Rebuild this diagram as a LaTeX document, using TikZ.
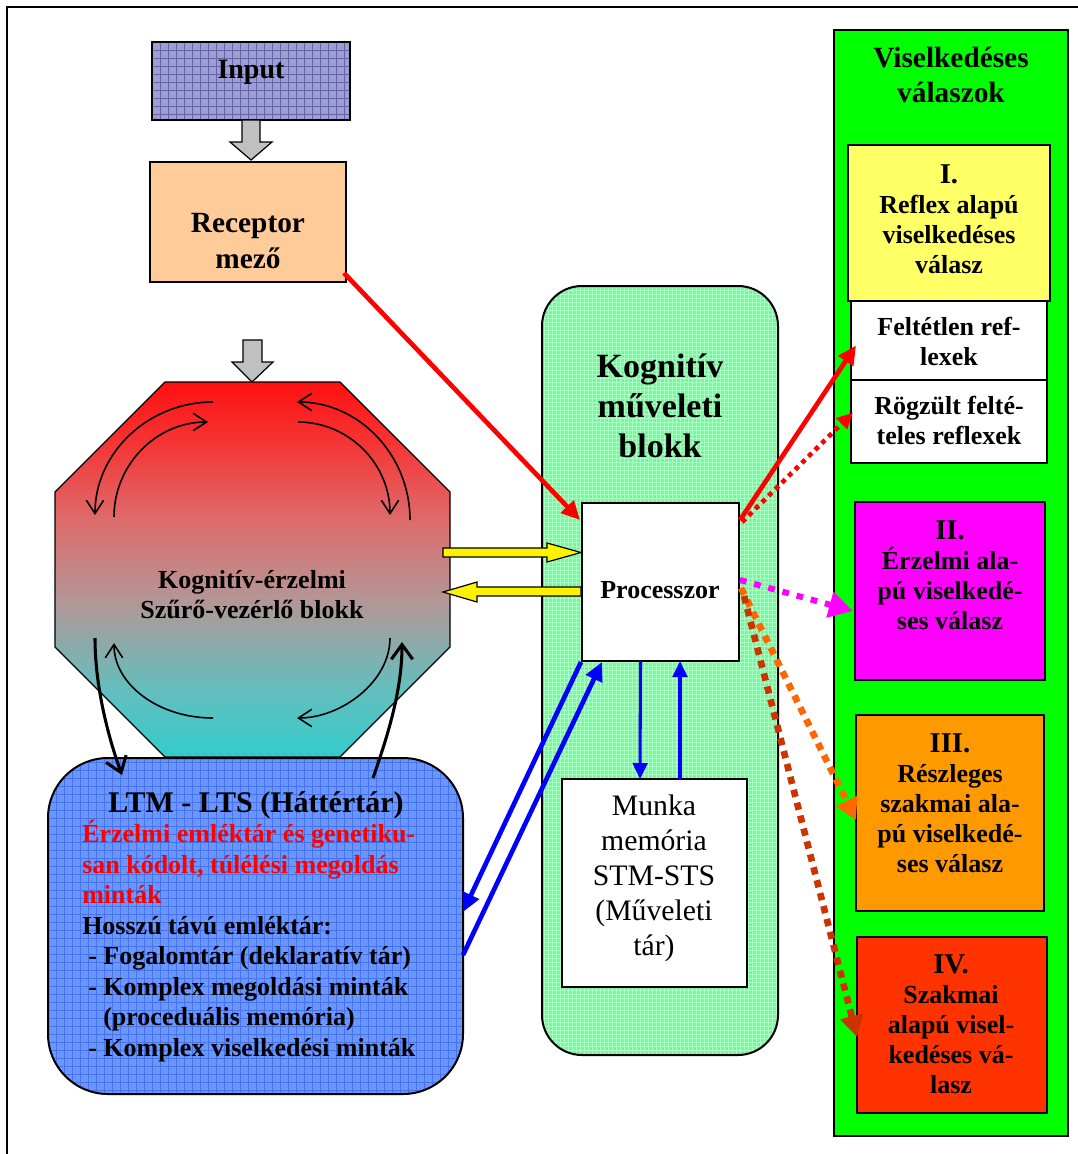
\documentclass[tikz,border=0pt]{standalone}
\usepackage{fontspec}
\setmainfont{Liberation Serif}
\usetikzlibrary{arrows.meta,calc,patterns.meta}

\definecolor{inputbase}{RGB}{158,158,208}
\definecolor{inputgrid}{RGB}{100,100,170}
\definecolor{receptor}{RGB}{255,204,153}
\definecolor{ltmbase}{RGB}{105,150,255}
\definecolor{ltmgrid}{RGB}{70,115,235}
\definecolor{kogbase}{RGB}{120,245,160}
\definecolor{koggrid}{RGB}{170,255,195}
\definecolor{colgreen}{RGB}{0,255,0}
\definecolor{boxyellow}{RGB}{255,255,102}
\definecolor{boxmagenta}{RGB}{255,0,255}
\definecolor{boxorange}{RGB}{255,153,0}
\definecolor{boxred}{RGB}{255,51,0}
\definecolor{octA}{RGB}{51,204,204}
\definecolor{octB}{RGB}{100,190,190}
\definecolor{octC}{RGB}{180,150,150}
\definecolor{octD}{RGB}{222,108,108}
\definecolor{octE}{RGB}{245,52,52}
\definecolor{octF}{RGB}{255,16,16}
\definecolor{dotorange}{RGB}{255,102,0}
\definecolor{dotbrown}{RGB}{204,51,0}
\definecolor{arrowblue}{RGB}{0,0,255}
\definecolor{blockgray}{RGB}{192,192,192}

% red at the top fading through a greyish pink into cyan at the bottom
\pgfdeclareverticalshading{octshade}{100bp}{color(0bp)=(octA); color(25bp)=(octA);
  color(34bp)=(octB); color(46bp)=(octC); color(56.5bp)=(octD); color(67bp)=(octE);
  color(75bp)=(octF); color(100bp)=(octF)}

\newcommand\fnt[2]{\fontsize{#1}{#2}\selectfont}

\tikzset{
  box/.style={draw=black, line width=1.5pt, inner sep=0pt, outer sep=0pt},
  place/.style n args={4}{minimum width={(#3-#1)*0.75pt}, minimum height={(#4-#2)*0.75pt},
    at={({(#1+#3)/2},{(#2+#4)/2})}},
  txt/.style={inner sep=0pt, align=center},
  bodyfont/.style={font={\fnt{19.5pt}{22.5pt}\bfseries}},
  gridfill/.style n args={4}{preaction={fill=#1},
    preaction={pattern={Hatch[distance=#3,line width=#4]}, pattern color=#2}},
  blockarrow/.style={draw=black, line width=0.9pt, line join=miter},
  thinbarb/.style={line width=1.2pt, -{Straight Barb[length=10pt,width=13pt]}},
  thickbarb/.style={line width=2.3pt, -{Straight Barb[length=11pt,width=16pt]}},
  redsolid/.style={draw=red, line width=3.5pt, -{Triangle[length=14pt,width=13pt]}},
  reddot/.style={draw=red, line width=3.5pt, dash pattern=on 3.5pt off 3.5pt,
    -{Triangle[length=12pt,width=11pt]}},
  magdot/.style={draw=boxmagenta, line width=4.5pt, dash pattern=on 5pt off 6pt,
    -{Triangle[length=18pt,width=19pt]}},
  orangedot/.style={draw=#1, line width=5pt, dash pattern=on 5.5pt off 4.5pt,
    -{Triangle[length=16pt,width=17pt]}},
  bluethick/.style={draw=arrowblue, line width=3.5pt, -{Triangle[length=14pt,width=13pt]}},
  bluethin/.style={draw=arrowblue, line width=2.3pt, -{Triangle[length=12pt,width=11pt]}},
}

\begin{document}
\begin{tikzpicture}[x=0.75pt,y=-0.75pt]
\useasboundingbox (0,0) rectangle (1078,1154);

% page frame
\draw[line width=1.5pt] (7,1160) -- (7,7) -- (1085,7);

% ---------- right column: behavioural responses ----------
\node[box, place={834}{30}{1068}{1136}, fill=colgreen] (col) {};
\node[txt, font={\fnt{22pt}{26.25pt}\bfseries}] (colt) at (951,74.5) {Viselkedéses\\válaszok};

\node[box, place={848}{145}{1050}{301}, fill=boxyellow] (b1) {};
\node[txt, bodyfont] (b1t) at (949,219) {{\fnt{21.5pt}{22.5pt}I.}\\Reflex alapú\\viselkedéses\\válasz};
\node[box, place={851}{301}{1047}{380}, fill=white] (felt) {};
\node[txt, bodyfont] (feltt) at (949,341) {Feltétlen ref-\\lexek};
\node[box, place={851}{380}{1047}{463}, fill=white] (rog) {};
\node[txt, bodyfont] (rogt) at (949,420) {Rögzült felté-\\teles reflexek};

\node[box, place={855}{502}{1045}{680}, fill=boxmagenta] (b2) {};
\node[txt, bodyfont] (b2t) at (950,575) {{\fnt{21.5pt}{22.5pt}II.}\\Érzelmi ala-\\pú viselkedé-\\ses válasz};
\node[box, place={856}{715}{1044}{911}, fill=boxorange] (b3) {};
\node[txt, bodyfont] (b3t) at (950,803) {{\fnt{21.5pt}{22.5pt}III.}\\Részleges\\szakmai ala-\\pú viselkedé-\\ses válasz};
\node[box, place={857}{937}{1047}{1113}, fill=boxred] (b4) {};
\node[txt, bodyfont] (b4t) at (951,1024) {{\fnt{21.5pt}{22.5pt}IV.}\\Szakmai\\alapú visel-\\kedéses vá-\\lasz};

% ---------- cognitive operation block ----------
\node[box, place={542}{286}{778}{1055}, rounded corners=30pt,
      gridfill={kogbase}{koggrid}{3pt}{0.35pt}] (kog) {};
\node[txt, font={\fnt{25.5pt}{30pt}\bfseries}] (kogt) at (660,406) {Kognitív\\műveleti\\blokk};
\node[box, place={582}{503}{739}{661}, fill=white] (proc) {};
\node[txt, font={\fnt{19.5pt}{22.5pt}\bfseries}, anchor=base] (proct) at (660,598) {Processzor};
\node[box, place={562}{779}{747}{987}, fill=white] (munka) {};
\node[txt, font={\fnt{22.3pt}{26.25pt}}] (munkat) at (654,878) {Munka\\memória\\STM-STS\\(Műveleti\\tár)};

% ---------- input and receptor field ----------
\node[box, place={152}{42}{350}{120}, gridfill={inputbase}{inputgrid}{6pt}{0.5pt}] (inp) {};
\node[txt, font={\fnt{21pt}{24pt}\bfseries}, anchor=base] (inpt) at (251,78) {Input};
\node[box, place={150}{162}{346}{282}, fill=receptor] (rec) {};
\node[txt, font={\fnt{22pt}{27pt}\bfseries}] (rect) at (248,241) {Receptor\\mező};

\path[blockarrow, fill=blockgray] (242,120) -- (260,120) -- (260,142) -- (272,142)
  -- (251,160) -- (230,142) -- (242,142) -- cycle;
\path[blockarrow, fill=blockgray] (243,340) -- (262,340) -- (262,362) -- (273,362)
  -- (252,382) -- (232,362) -- (243,362) -- cycle;

% ---------- filter and control block (octagon) ----------
\path[shading=octshade, draw=black, line width=1pt]
  (165,382) -- (340,382) -- (450,492) -- (450,647) -- (340,757) -- (165,757)
  -- (55,647) -- (55,492) -- cycle;
\node[txt, font={\fnt{19.5pt}{22.5pt}\bfseries}] (filt) at (252,595) {Kognitív-érzelmi\\Szűrő-vezérlő blokk};

% circulating arrows inside the octagon
\draw[thinbarb] (213,402) .. controls (148,402) and (95,453) .. (95,515);
\draw[thinbarb] (114,517) .. controls (114,465) and (156,422) .. (208,422);
\draw[thinbarb] (410,520) .. controls (410,455) and (359,402) .. (297,402);
\draw[thinbarb] (298,422) .. controls (349,422) and (390,464) .. (390,515);
\draw[thinbarb] (213,718) .. controls (158,718) and (114,684) .. (114,643);
\draw[thinbarb] (390,638) .. controls (390,682) and (341,718) .. (297,718);

% ---------- long-term memory ----------
\node[box, place={48}{758}{463}{1094}, rounded corners=45pt,
      gridfill={ltmbase}{ltmgrid}{6pt}{0.5pt}] (ltm) {};
\node[txt, font={\fnt{22.5pt}{26pt}\bfseries}, anchor=base] (ltmt) at (256,812) {LTM - LTS (Háttértár)};
\node[inner sep=0pt, align=left, anchor=west, font={\fnt{19.5pt}{22.9pt}\bfseries}] (ltmb) at (82,941)
  {\textcolor{red}{Érzelmi emléktár és genetiku-}\\
   \textcolor{red}{san kódolt, túlélési megoldás}\\
   \textcolor{red}{minták}\\
   Hosszú távú emléktár:\\
   \hspace*{4.5pt}- Fogalomtár (deklaratív tár)\\
   \hspace*{4.5pt}- Komplex megoldási minták\\
   \hspace*{15.75pt}(proceduális memória)\\
   \hspace*{4.5pt}- Komplex viselkedési minták};

% octagon <-> long-term memory
\coordinate (octL) at (95,638);
\coordinate (octR) at (402,642);
\draw[thickbarb] (octL) .. controls (95,690) and (110,742) .. ($(ltm.north west)+(74,17)$);
\draw[thickbarb] ($(ltm.north east)+(-90,20)$) .. controls (388,735) and (402,690) .. (octR);

% ---------- yellow block arrows between filter and processor ----------
\path[blockarrow, fill=yellow] (443,548) -- (547,548) -- (547,543) -- (581,552.5)
  -- (547,562) -- (547,557) -- (443,557) -- cycle;
\path[blockarrow, fill=yellow] (581,587) -- (477,587) -- (477,582) -- (443,592)
  -- (477,602) -- (477,596) -- (581,596) -- cycle;

% ---------- connectors ----------
\draw[redsolid] ($(rec.south east)+(-2,-9)$) -- ($(proc.north west)+(-2,17)$);
\draw[redsolid] ($(proc.north east)+(1,17)$) -- ($(felt.west)+(5,5)$);
\draw[reddot] ($(proc.north east)+(3,19)$) -- ($(rog.west)+(2,-9)$);
\draw[magdot] ($(proc.east)+(1,-2)$) -- ($(b2.west)+(-2,20)$);
\draw[orangedot=dotorange] ($(proc.east)+(2,6)$) -- ($(b3.west)+(0,7)$);
\draw[orangedot=dotbrown] ($(proc.east)+(5,14)$) -- ($(b4.west)+(0,12)$);

\draw[bluethick] ($(proc.south west)+(-1,1)$) -- ($(ltm.east)+(0,-14)$);
\draw[bluethick] ($(ltm.east)+(0,29)$) -- ($(proc.south west)+(20,1)$);
\draw[bluethin] ($(proc.south)+(-20,0)$) -- ($(munka.north)+(-14.5,0)$);
\draw[bluethin] ($(munka.north)+(25.5,0)$) -- ($(proc.south)+(19.5,0)$);
\end{tikzpicture}
\end{document}
